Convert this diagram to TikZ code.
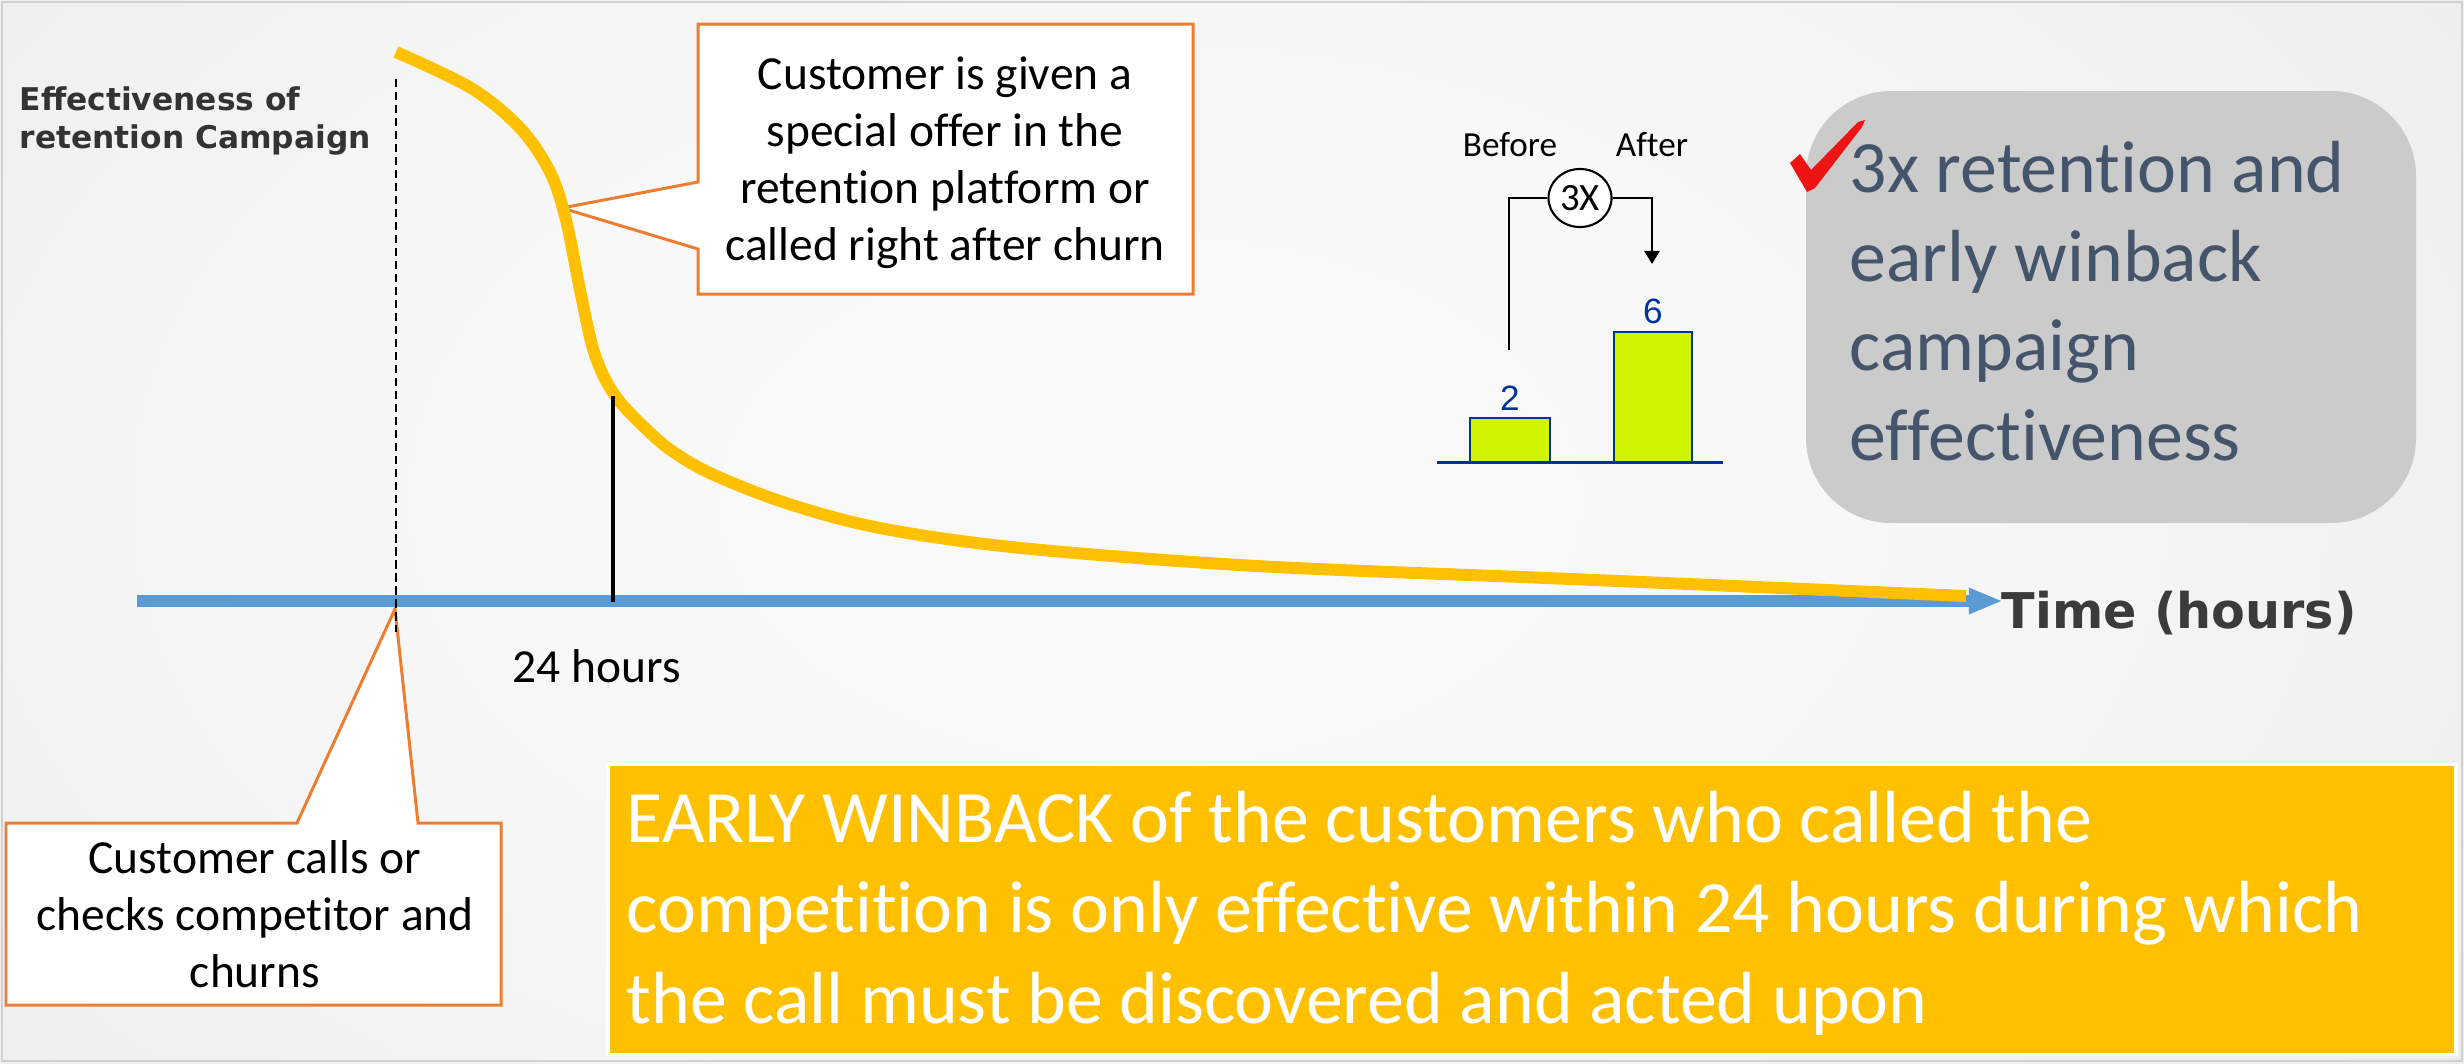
\documentclass[tikz,border=0pt]{standalone}
\usepackage{fontspec}
\setmainfont{Carlito}[Ligatures=NoCommon]
\newfontfamily\calibri{Carlito}[Ligatures=NoCommon]
\newfontfamily\headfont{DejaVu Sans}
\newfontfamily\arialfont{Liberation Sans}
\usetikzlibrary{arrows.meta,shapes.geometric}

\definecolor{calloutorange}{HTML}{ED7D31}
\definecolor{curveyellow}{HTML}{FFC000}
\definecolor{axisblue}{HTML}{5B9BD5}
\definecolor{barlime}{HTML}{CFF500}
\definecolor{barblue}{HTML}{003399}
\definecolor{panelgrey}{HTML}{CBCBCB}
\definecolor{slateblue}{HTML}{44546A}
\definecolor{labelgrey}{HTML}{333333}
\definecolor{timegrey}{HTML}{3B3B3B}
\definecolor{checkred}{HTML}{EE1414}

% soft vignette behind the slide
\pgfdeclareradialshading{slideglow}{\pgfpoint{0bp}{0bp}}{%
  color(0bp)=(white!98!black);
  color(8bp)=(white!97!black);
  color(25bp)=(black!11);
  color(50bp)=(black!11)}

\tikzset{
  calloutshape/.style={draw=calloutorange, line width=0.85pt, fill=white, line join=miter},
  calltext/.style={inner sep=0pt, align=center, text=black,
    font=\calibri\fontsize{13.5}{16.2}\selectfont},
  effcurve/.style={draw=curveyellow, line width=3.4pt, line cap=butt},
  timeaxis/.style={draw=axisblue, line width=3.4pt,
    -{Triangle[length=9.7pt,width=6.8pt]}},
  marker24/.style={draw=black, line width=1.4pt},
  churnline/.style={draw=black, line width=0.6pt, dash pattern=on 2.3pt off 1.4pt},
  barrect/.style={fill=barlime, draw=barblue, line width=0.55pt},
  barnum/.style={inner sep=0pt, anchor=base, text=barblue,
    font=\arialfont\fontsize{10}{12}\selectfont},
  chartlabel/.style={inner sep=0pt, anchor=base,
    font=\calibri\fontsize{10}{12}\selectfont},
  bracketline/.style={draw=black, line width=0.6pt},
}

\begin{document}
\begin{tikzpicture}[x=0.01cm, y=-0.01cm]
\useasboundingbox (0,0) rectangle (2464,1063);

% background
\begin{scope}
  \clip (0,0) rectangle (2464,1063);
  \fill[black!11] (0,0) rectangle (2464,1063);
  \shade[shading=slideglow] (-1300,-1000) rectangle (3600,2000);
\end{scope}
\draw[black!18, line width=0.5pt] (2,2) rectangle (2462,1061);

% result panel (multi-line nodes are anchored at the last baseline)
\fill[panelgrey, rounded corners=0.85cm] (1806,91) rectangle (2416,523);
\node[anchor=base west, inner sep=0pt, align=left, text=slateblue,
      font=\calibri\fontsize{21}{25.4}\selectfont] (gainnote) at (1849,460)
  {3x retention and\\early winback\\campaign\\effectiveness};
\fill[checkred] (1790,163) -- (1800,154) -- (1811,170) -- (1858,122) -- (1865,120)
  -- (1862,127) -- (1815,188) -- (1807,192) -- cycle;

% before / after chart
\draw[barrect] (1470,418) rectangle (1550,462);
\draw[barrect] (1614,332) rectangle (1692,462);
\coordinate (chartL) at (1437,462);
\coordinate (chartR) at (1723,462);
\draw[barblue, line width=0.85pt] (chartL) -- (chartR);
\node[barnum] (val2) at (1510,410) {2};
\node[barnum] (val6) at (1653,323) {6};
\node[chartlabel] (before) at (1510,156) {Before};
\node[chartlabel] (after) at (1652,156) {After};
\node[ellipse, draw, line width=0.6pt, fill=white, inner sep=0pt,
      minimum width=0.63cm, minimum height=0.58cm,
      font=\calibri\fontsize{11}{13}\selectfont] (gain) at (1580,198) {3X};
\coordinate (from2) at (1509,350);
\coordinate (to6) at (1652,264);
\draw[bracketline] (from2) |- (gain.west);
\draw[bracketline, -{Triangle[length=3.7pt,width=4.3pt]}] (gain.east) -| (to6);

% conclusion banner
\draw[draw=white, line width=1.1pt, fill=curveyellow] (608,764.5) rectangle (2456,1054.5);
\node[anchor=base west, inner sep=0pt, align=left, text=white,
      font=\calibri\fontsize{21}{25.6}\selectfont] (winback) at (626,1023)
  {EARLY WINBACK of the customers who called the\\competition is only effective within 24 hours during which\\the call must be discovered and acted upon};

% callouts
\draw[calloutshape] (698,24) -- (1193,24) -- (1193,294) -- (698,294) -- (698,249)
  -- (562,208) -- (698,182) -- cycle;
\node[calltext, anchor=base] (offer) at (945,260)
  {Customer is given a\\special offer in the\\retention platform or\\called right after churn};
\draw[calloutshape] (6,823) -- (297,823) -- (395,609) -- (418,823) -- (501,823)
  -- (501,1005) -- (6,1005) -- cycle;
\node[calltext, anchor=base] (churn) at (255,987)
  {Customer calls or\\checks competitor and\\churns};

% time axis
\coordinate (axstart) at (137,601);
\coordinate (axend) at (2003,601);
\draw[timeaxis] (axstart) -- (axend);
\node[anchor=base west, inner sep=0pt, text=timegrey,
      font=\headfont\bfseries\fontsize{14}{17}\selectfont] (timelbl) at (2001,628) {Time (hours)};

% effectiveness curve
\draw[effcurve] plot[smooth, tension=0.55] coordinates {
  (396,52) (471,88) (520,128) (550,172) (566,220) (580,290) (592,345) (604,377)
  (620,402) (645,428) (672,451) (712,474) (786,503) (880,528) (1021,548)
  (1257,566) (1571,579) (1966,596)};

% 24 hour marker
\coordinate (t24top) at (613,396);
\coordinate (t24) at (613,602);
\draw[marker24] (t24top) -- (t24);
\node[anchor=base west, inner sep=0pt, font=\calibri\fontsize{13.5}{16}\selectfont] (hrs) at (512,682) {24 hours};

% churn moment
\coordinate (churnTop) at (396,79);
\coordinate (churnBot) at (396,632);
\draw[churnline] (churnTop) -- (churnBot);

% axis title
\node[anchor=base west, inner sep=0pt, align=left, text=labelgrey,
      font=\headfont\bfseries\fontsize{8.9}{10.8}\selectfont] (effect) at (19,148)
  {Effectiveness of\\retention Campaign};
\end{tikzpicture}
\end{document}
